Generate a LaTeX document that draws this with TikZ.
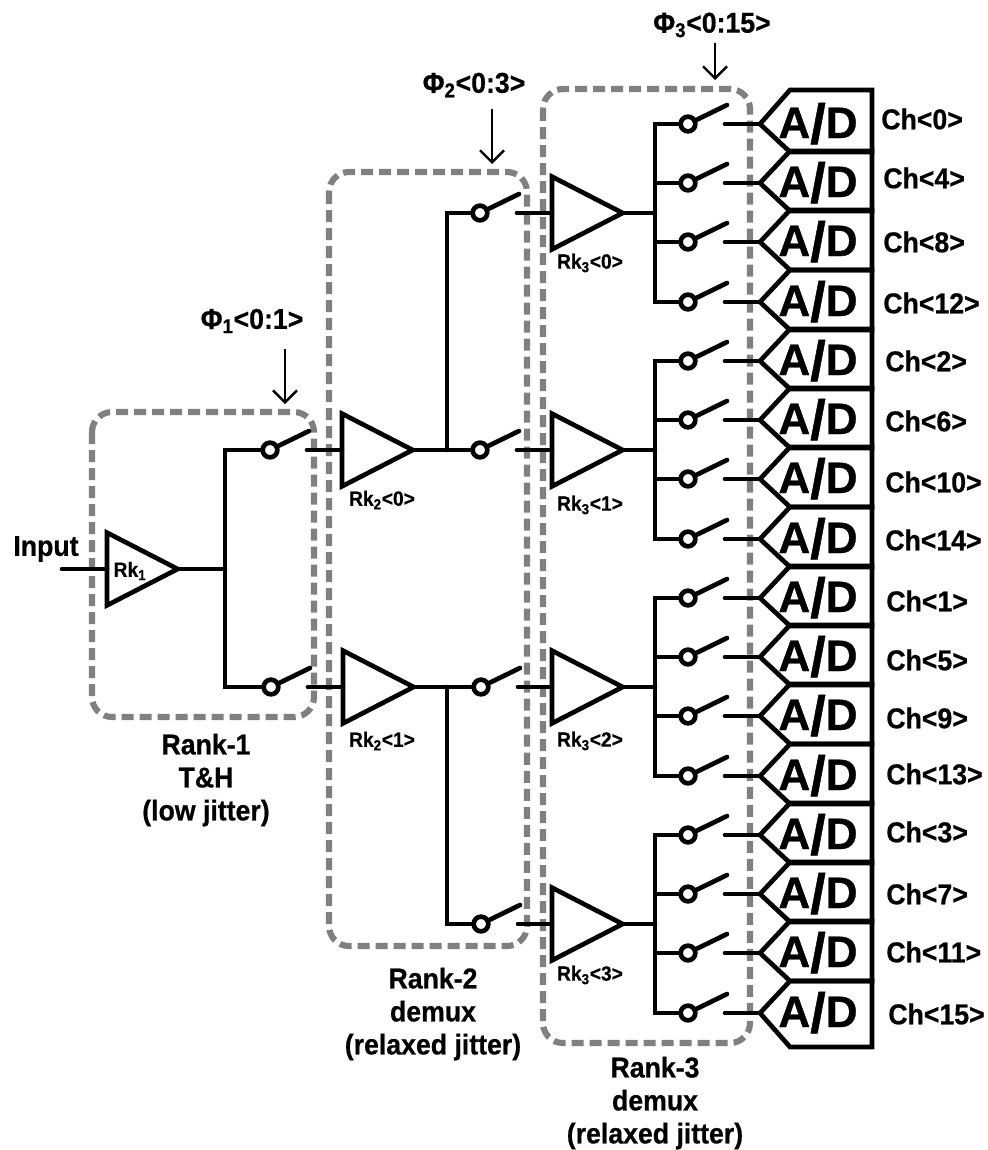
\documentclass[tikz,border=0pt]{standalone}
\usepackage{fontspec}
\setmainfont{Liberation Sans}[FakeStretch=0.93,BoldFeatures={FakeBold=0.6}]
\newfontfamily\adfont{Liberation Sans}[BoldFeatures={FakeBold=0.8}]
\newcommand{\adtext}{\adfont\bfseries A{\fontsize{42}{44}\selectfont\raisebox{-4pt}{/}}D}
\usetikzlibrary{arrows.meta,calc,shapes.geometric}

\begin{document}
\begin{tikzpicture}[x=0.75pt,y=-0.75pt,line width=3.5pt,line cap=round,
    >={Straight Barb[length=9pt,width=18pt]},
    rankbox/.style={draw=black!50,line width=4.6pt,line cap=butt,rounded corners=15pt,dash pattern=on 9pt off 4.5pt},
    amp/.style={draw,isosceles triangle,isosceles triangle stretches,shape border rotate=0,minimum width=54.5pt,minimum height=53pt,inner sep=0pt,outer sep=0pt},
    pole/.style={draw,circle,fill=white,minimum size=11pt,inner sep=0pt,outer sep=0pt},
    ranklab/.style={font=\fontsize{21.5}{24.75}\selectfont\bfseries,align=center,inner sep=0pt},
    amplab/.style={font=\fontsize{15.5}{17}\selectfont\bfseries,inner sep=0pt},
    adlab/.style={font=\fontsize{33}{35}\selectfont,inner sep=0pt,anchor=base}]
  \useasboundingbox (0,0) rectangle (988,1150);

  % dashed rank outlines
  \draw[rankbox] (92,412) rectangle (314,717);
  \draw[rankbox] (329,172) rectangle (527,946);
  \draw[rankbox] (543,89) rectangle (750,1043);

  % rank-1
  \node[amp,anchor=lower side] (ampOne) at (107,569) {};
  \node[amplab] (ampOneLab) at (130,571) {Rk\textsubscript{1}};
  \node[ranklab] (inputLab) at (46,549) {Input};
  \coordinate (inputEnd) at (62,569);
  \coordinate (busOne) at (225,569);
  \draw (inputEnd) -- (ampOne.lower side);
  \draw (ampOne.apex) -- (busOne);

  % rank-2 and rank-3 amplifiers
  \foreach \nm/\x/\y/\lab/\xl/\yl in {
      twoA/342/450/Rk\textsubscript{2}<0>/382/500,
      twoB/343/687/Rk\textsubscript{2}<1>/382/741,
      threeA/552/213/Rk\textsubscript{3}<0>/590/263,
      threeB/552/450/Rk\textsubscript{3}<1>/590/505,
      threeC/552/687/Rk\textsubscript{3}<2>/590/741,
      threeD/552/924/Rk\textsubscript{3}<3>/590/975} {
    \node[amp,anchor=lower side] (amp\nm) at (\x,\y) {};
    \node[amplab] (lab\nm) at (\xl,\yl) {\lab};
  }

  % switches in front of the amplifiers
  \foreach \nm/\x/\y/\to in {
      oneA/270/450/twoA,oneB/271/687/twoB,
      twoAa/480/213/threeA,twoAb/480/450/threeB,
      twoBa/481/687/threeC,twoBb/481/924/threeD} {
    \coordinate (arm\nm) at ($(\x,\y)+(39,-19)$);
    \coordinate (out\nm) at ($(\x,\y)+(37,0)$);
    \node[pole] (sw\nm) at (\x,\y) {};
    \draw (sw\nm) -- (arm\nm);
    \draw (out\nm) -- (amp\to.lower side);
  }
  \draw (busOne) |- (swoneA);
  \draw (busOne) |- (swoneB);
  \draw (amptwoA.apex) -- (swtwoAb);
  \draw (amptwoB.apex) -- (swtwoBa);
  \coordinate (busTwoA) at (447,450);
  \coordinate (busTwoB) at (447,687);
  \draw (busTwoA) |- (swtwoAa);
  \draw (busTwoB) |- (swtwoBb);

  % rank-3 switches and converters
  \foreach \g/\ymid in {A/213,B/450,C/687,D/924} {
    \coordinate (busThree\g) at (655,\ymid);
    \draw (ampthree\g.apex) -- (busThree\g);
    \foreach \k/\dy in {0/-89,1/-30,2/29,3/89} {
      \pgfmathtruncatemacro{\yb}{\ymid+\dy}
      \pgfmathtruncatemacro{\ylow}{(\yb==1013)?34:28}
      \pgfmathtruncatemacro{\yup}{(\yb==124)?-34:-32}
      \node[pole] (sw\g\k) at (688,\yb) {};
      \coordinate (arm\g\k) at (727,\yb-19);
      \coordinate (out\g\k) at (725,\yb);
      \coordinate (adc\g\k) at (760,\yb);
      \draw (busThree\g) |- (sw\g\k);
      \draw (sw\g\k) -- (arm\g\k);
      \draw (out\g\k) -- (adc\g\k);
      \draw[line cap=butt] (adc\g\k) -- (790,\yb+\yup) -- (872,\yb+\yup) -- (872,\yb+\ylow) -- (790,\yb+\ylow) -- cycle;
      \node[adlab] (adLab\g\k) at (818,\yb+14) {\adtext};
    }
  }

  % channel names
  \foreach \n/\x/\y in {0/879/119,4/881/178,8/881/242,12/881/303,2/883/361,6/883/421,10/883/482,14/883/540,
      1/884/601,5/884/660,9/884/718,13/884/774,3/884/832,7/884/894,11/884/952,15/886/1014} {
    \node[ranklab,anchor=west] (ch\n) at (\x,\y) {Ch<\n>};
  }

  % clock phases
  \node[ranklab] (phiOne) at (252,321) {Φ\textsubscript{1}<0:1>};
  \node[ranklab] (phiTwo) at (474,85) {Φ\textsubscript{2}<0:3>};
  \node[ranklab] (phiThree) at (712,25) {Φ\textsubscript{3}<0:15>};
  \coordinate (phiOneTip) at (285,404);
  \coordinate (phiTwoTip) at (492,164);
  \coordinate (phiThreeTip) at (715,80);
  \draw[->,line width=1.8pt,line cap=butt] ($(phiOneTip)+(0,-55)$) -- (phiOneTip);
  \draw[->,line width=1.8pt,line cap=butt] ($(phiTwoTip)+(0,-55)$) -- (phiTwoTip);
  \draw[->,line width=1.8pt,line cap=butt] ($(phiThreeTip)+(0,-37)$) -- (phiThreeTip);

  % rank captions
  \node[ranklab] (rankOne) at (206,780) {Rank-1\\T\&H\\(low jitter)};
  \node[ranklab] (rankTwo) at (433,1014) {Rank-2\\demux\\(relaxed jitter)};
  \node[ranklab] (rankThree) at (655,1103) {Rank-3\\demux\\(relaxed jitter)};
\end{tikzpicture}
\end{document}
